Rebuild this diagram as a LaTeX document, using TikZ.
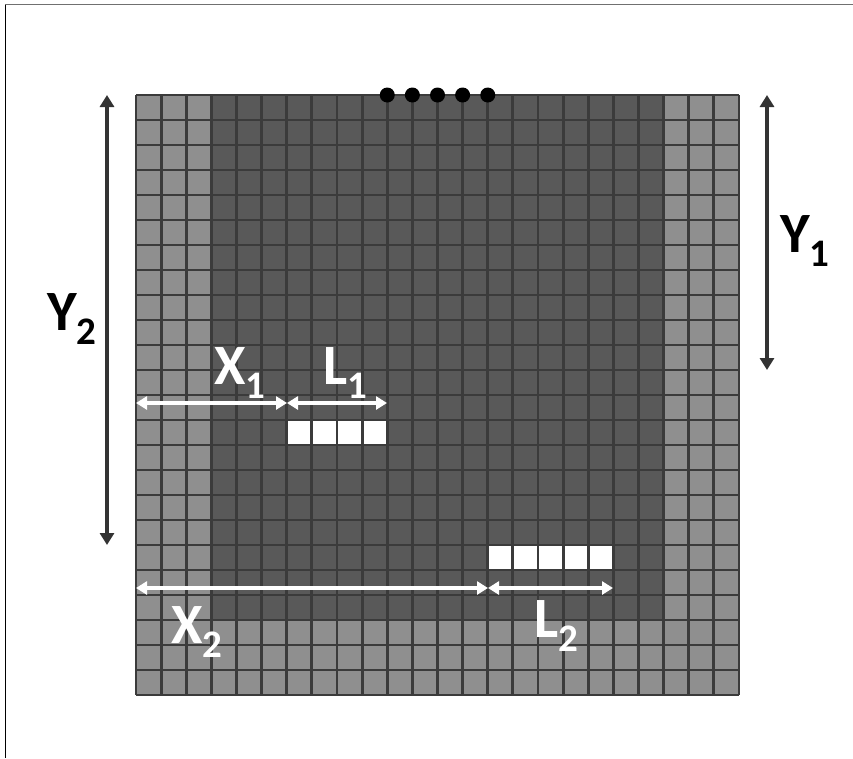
\documentclass[tikz,border=0pt]{standalone}
\usepackage{fontspec}
\setmainfont{Carlito}
\usepackage{xcolor}
\usetikzlibrary{arrows.meta}
\definecolor{celllight}{HTML}{8F8F8F}
\definecolor{celldark}{HTML}{595959}
\definecolor{gridgray}{HTML}{3B3B3B}
\definecolor{arrowdark}{HTML}{333333}
\definecolor{framegray}{HTML}{707070}
\newcommand{\dimlabel}[2]{#1\raisebox{-14pt}{\fontsize{39}{39}\selectfont #2}}
\tikzset{
  gridline/.style={
    draw=gridgray,
    line width=2.8pt
  },
  measure/.style={
    {Triangle[length=11pt,width=13pt]}-{Triangle[length=11pt,width=13pt]},
    line width=3.5pt,
    draw=white
  },
  span/.style={
    {Triangle[length=12pt,width=14pt]}-{Triangle[length=12pt,width=14pt]},
    line width=4.5pt,
    draw=arrowdark
  },
  dimtext/.style={
    anchor=base west,
    inner sep=0pt,
    font=\bfseries\fontsize{57}{57}\selectfont
  },
  marker/.style={
    circle,
    fill=black,
    inner sep=0pt,
    minimum size=15pt
  }
}
\begin{document}
\begin{tikzpicture}[x=1pt,y=-1pt]
    \useasboundingbox (0,0) rectangle (853,758);
    \draw[framegray, line width=1.5pt] (5,4.5) -- (853,4.5);
    \draw[black, line width=0.8pt] (5.5,4.5) -- (5.5,758);
    % cell field, 24 x 24
    \begin{scope}[shift={(136,95)}, x=25.125pt, y=-25pt]
      \fill[celllight] (0,0) rectangle (24,24);
      \fill[celldark] (3,0) rectangle (21,21);
      \fill[white] (6,13) rectangle (10,14);
      \fill[white] (14,18) rectangle (19,19);
      \foreach \k in {0,...,24} {
        \draw[gridline] (\k,0) -- (\k,24);
        \draw[gridline] (0,\k) -- (24,\k);
      }
      \foreach \c [count=\n] in {10,...,14}
        \node[marker] (dot\n) at (\c,0) {};
    \end{scope}
    % dimension arrows
    \coordinate (y2top) at (107,95);
    \coordinate (y2bot) at (107,545);
    \coordinate (y1top) at (767,95);
    \coordinate (y1bot) at (767,370);
    \coordinate (x1start) at (136,403);
    \coordinate (x1end) at (287,403);
    \coordinate (l1end) at (387,403);
    \coordinate (x2start) at (136,588);
    \coordinate (x2end) at (488,588);
    \coordinate (l2end) at (613,588);
    \draw[span] (y2top) -- (y2bot);
    \draw[span] (y1top) -- (y1bot);
    \draw[measure] (x1start) -- (x1end);
    \draw[measure] (x1end) -- (l1end);
    \draw[measure] (x2start) -- (x2end);
    \draw[measure] (x2end) -- (l2end);
    % labels
    \node[dimtext] (lblY1) at (780,252) {\dimlabel{Y}{1}};
    \node[dimtext] (lblY2) at (47,330) {\dimlabel{Y}{2}};
    \node[dimtext, text=white] (lblX1) at (214,384) {\dimlabel{X}{1}};
    \node[dimtext, text=white] (lblL1) at (323,384) {\dimlabel{L}{1}};
    \node[dimtext, text=white] (lblX2) at (171,643) {\dimlabel{X}{2}};
    \node[dimtext, text=white] (lblL2) at (534,637) {\dimlabel{L}{2}};
\end{tikzpicture}
\end{document}
